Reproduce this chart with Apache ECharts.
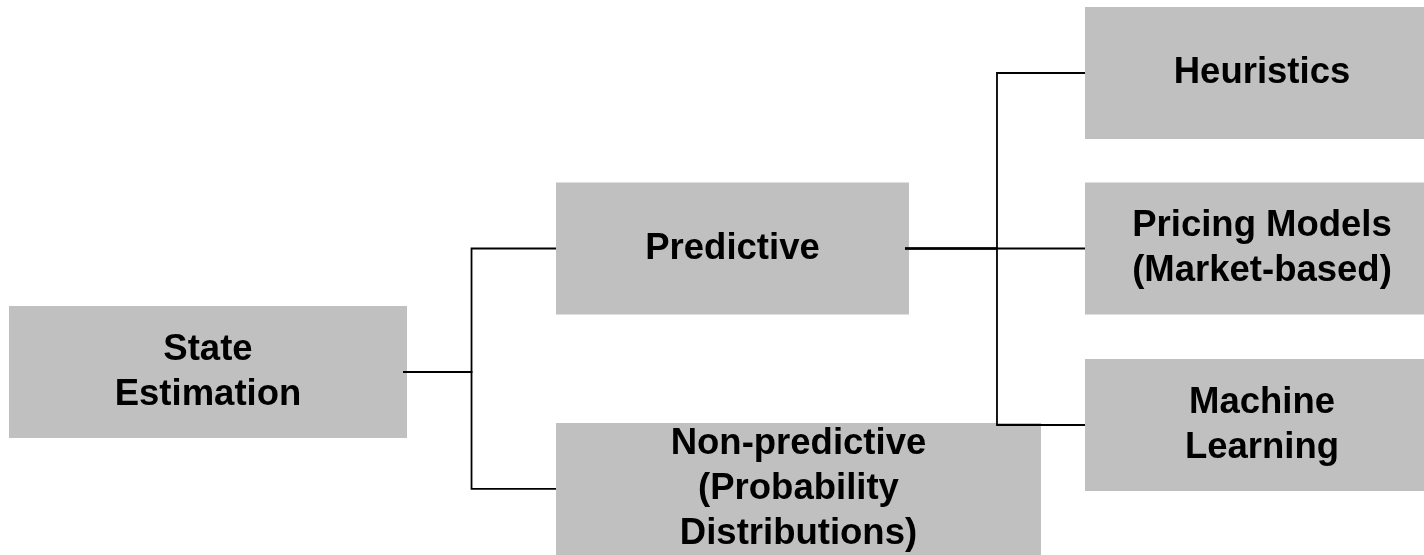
<!DOCTYPE html>
<html>
<head>
<meta charset="utf-8">
<script src="https://cdn.jsdelivr.net/npm/echarts@6/dist/echarts.min.js"></script>
<style>
  html, body { margin: 0; padding: 0; background: #ffffff; }
  #chart { width: 1424px; height: 555px; }
</style>
</head>
<body>
<div id="chart"></div>
<script>
// ---- Data: the hierarchy ----
const nodeLabels = [
  'State\nEstimation',
  'Predictive',
  'Non-predictive\n(Probability\nDistributions)',
  'Heuristics',
  'Pricing Models\n(Market-based)',
  'Machine\nLearning'
];
const nodeParent = [-1, 0, 0, 1, 1, 1];
const nodeDepth = [0, 1, 1, 2, 2, 2];

// ---- Layout (abstract units: columns on x, rows on y) ----
const columnLeft = [0, 1.0167, 2];          // left edge of boxes per depth
const elbowColumn = { 0: 0.8597, 1: 1.8364 }; // elbow position for each parent
const nodeRowPos = [1.7037, 1, 2.37, 0, 1, 2.0057];

// ---- Styles ----
const boxWidth = [398, 353, 485, 354, 354, 354];
const boxHeight = 132;
const boxColor = '#c0c0c0';
const fontFamily = '"Liberation Sans", Arial, Helvetica, sans-serif';

const boxData = nodeLabels.map((t, i) => [columnLeft[nodeDepth[i]], nodeRowPos[i], i]);
const linkData = [];
nodeParent.forEach((p, i) => {
  if (p >= 0) {
    linkData.push([
      columnLeft[nodeDepth[p]], nodeRowPos[p],
      elbowColumn[p], nodeRowPos[i],
      columnLeft[nodeDepth[i]], p
    ]);
  }
});

const chart = echarts.init(document.getElementById('chart'), null, { renderer: 'canvas' });
chart.setOption({
  animation: false,
  backgroundColor: '#ffffff',
  grid: { left: 0, right: 0, top: 0, bottom: 0 },
  xAxis: { type: 'value', min: -9 / 538, max: (1424 - 9) / 538, show: false },
  yAxis: { type: 'value', inverse: true, min: -73 / 175.5, max: (555 - 73) / 175.5, show: false },
  series: [
    {
      type: 'custom',
      name: 'boxes',
      coordinateSystem: 'cartesian2d',
      clip: false,
      z: 1,
      data: boxData,
      encode: { x: 0, y: 1 },
      renderItem: function (params, api) {
        const idx = api.value(2);
        const p = api.coord([api.value(0), api.value(1)]);
        const w = boxWidth[idx];
        return {
          type: 'rect',
          shape: { x: p[0], y: p[1] - boxHeight / 2, width: w, height: boxHeight },
          style: { fill: boxColor },
          textContent: {
            type: 'text',
            style: {
              text: nodeLabels[idx],
              fill: '#000000',
              fontSize: 36.5,
              fontWeight: 'bold',
              fontFamily: fontFamily,
              lineHeight: 45,
              align: 'center',
              verticalAlign: 'middle'
            }
          },
          textConfig: { position: 'inside' }
        };
      }
    },
    {
      type: 'custom',
      name: 'links',
      coordinateSystem: 'cartesian2d',
      clip: false,
      z: 2,
      data: linkData,
      encode: { x: [0, 2, 4], y: [1, 3] },
      renderItem: function (params, api) {
        const parentIdx = api.value(5);
        const pStart = api.coord([api.value(0), api.value(1)]);
        const startX = pStart[0] + boxWidth[parentIdx] - 4;
        const pElbowTop = api.coord([api.value(2), api.value(1)]);
        const pElbowBot = api.coord([api.value(2), api.value(3)]);
        const pEnd = api.coord([api.value(4), api.value(3)]);
        return {
          type: 'polyline',
          shape: {
            points: [
              [startX, pStart[1]],
              [pElbowTop[0], pElbowTop[1]],
              [pElbowBot[0], pElbowBot[1]],
              [pEnd[0], pEnd[1]]
            ]
          },
          style: { stroke: '#000000', lineWidth: 1.8, fill: null, lineJoin: 'miter' }
        };
      }
    }
  ]
});
</script>
</body>
</html>
